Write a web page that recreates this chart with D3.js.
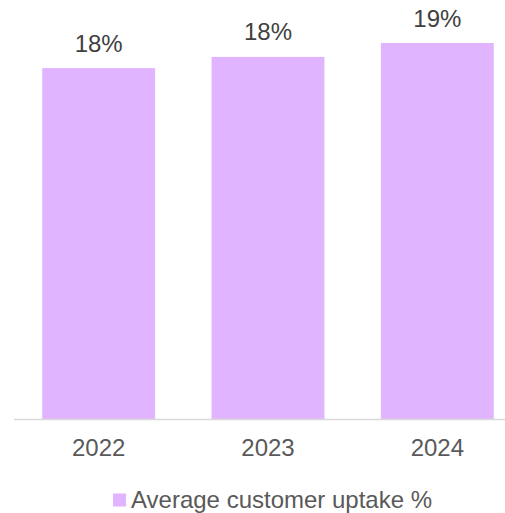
<!DOCTYPE html>
<html>
<head>
<meta charset="utf-8">
<script src="https://cdn.jsdelivr.net/npm/d3@7"></script>
<style>
  html, body { margin: 0; padding: 0; background: #fff; }
  svg { display: block; font-family: "Liberation Sans", Arial, sans-serif; }
</style>
</head>
<body>
<svg id="chart"></svg>
<script>
// Data
const years = ['2022', '2023', '2024'];
const uptake = [0.1773, 0.183, 0.19];
const seriesName = 'Average customer uptake %';

const W = 505, H = 513;
const BAR_COLOR = '#e0b4ff';
const FONT_SIZE = '24px';

const svg = d3.select('#chart').attr('width', W).attr('height', H);

const x = d3.scaleBand()
  .domain(years)
  .range([14, 522])
  .paddingInner(1 / 3)
  .paddingOuter(1 / 6);

const y = d3.scaleLinear()
  .domain([0, 0.2])
  .range([419.3, 23.2]);

const data = years.map((yr, i) => ({ year: yr, value: uptake[i] }));

// Staplar
svg.append('g')
  .selectAll('rect')
  .data(data)
  .join('rect')
  .attr('x', d => x(d.year))
  .attr('y', d => y(d.value))
  .attr('width', x.bandwidth())
  .attr('height', d => y(0) - y(d.value))
  .attr('fill', BAR_COLOR);

// X-axel
const xAxis = svg.append('g')
  .attr('transform', `translate(0,${Math.round(y(0)) + 0.5})`)
  .call(d3.axisBottom(x).tickSize(0).tickPadding(0));

xAxis.select('.domain')
  .attr('d', `M14,0H${W}`)
  .attr('stroke', '#d9d9d9')
  .attr('stroke-width', 1.5);

xAxis.selectAll('text')
  .attr('dy', null)
  .attr('y', 36.5)
  .style('font-size', FONT_SIZE)
  .style('font-family', '"Liberation Sans", Arial, sans-serif')
  .style('fill', '#595959');

// Värdeetiketter
svg.append('g')
  .selectAll('text')
  .data(data)
  .join('text')
  .attr('x', d => x(d.year) + x.bandwidth() / 2)
  .attr('y', d => y(d.value) - 16.5)
  .attr('text-anchor', 'middle')
  .style('font-size', FONT_SIZE)
  .style('fill', '#404040')
  .text(d => d3.format('.0%')(d.value));

// Legend
const legend = svg.append('g');
legend.append('rect')
  .attr('x', 113)
  .attr('y', 493.5)
  .attr('width', 13)
  .attr('height', 13)
  .attr('fill', BAR_COLOR);
legend.append('text')
  .attr('x', 131)
  .attr('y', 508)
  .style('font-size', FONT_SIZE)
  .style('fill', '#595959')
  .text(seriesName);
</script>
</body>
</html>
